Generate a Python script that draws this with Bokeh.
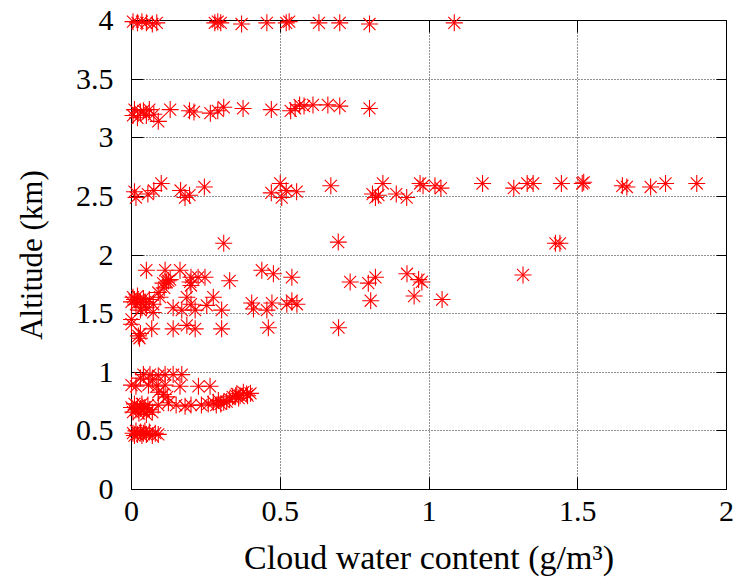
from bokeh.plotting import figure
from bokeh.models import LinearAxis, FixedTicker, Range1d
from bokeh.embed import file_html
from bokeh.resources import INLINE

# ---- data: cloud water content (g/m^3) vs altitude (km), grouped by level ----
cwc_40 = [0.005, 0.02, 0.035, 0.05, 0.07, 0.085, 0.28, 0.29, 0.30, 0.37, 0.455,
          0.52, 0.53, 0.63, 0.70, 0.80, 1.085]
alt_40 = [3.99, 3.98, 3.99, 3.98, 3.97, 3.98, 3.98, 3.99, 3.98, 3.97, 3.98,
          3.98, 3.99, 3.98, 3.98, 3.97, 3.98]

cwc_32 = [0.005, 0.01, 0.02, 0.03, 0.04, 0.05, 0.06, 0.075, 0.09, 0.13, 0.195,
          0.21, 0.265, 0.29, 0.31, 0.375, 0.47, 0.535, 0.55, 0.565, 0.58, 0.61,
          0.66, 0.70, 0.80]
alt_32 = [3.19, 3.24, 3.17, 3.22, 3.23, 3.19, 3.24, 3.20, 3.14, 3.24, 3.23,
          3.22, 3.21, 3.23, 3.26, 3.25, 3.24, 3.23, 3.25, 3.28, 3.27, 3.28,
          3.28, 3.27, 3.25]

cwc_25 = [0.01, 0.015, 0.055, 0.075, 0.10, 0.165, 0.18, 0.195, 0.245, 0.47, 0.50,
          0.505, 0.52, 0.555, 0.67, 0.81, 0.82, 0.83, 0.845, 0.89, 0.925, 0.97,
          0.98, 1.02, 1.04, 1.18, 1.285, 1.33, 1.35, 1.445, 1.515, 1.52, 1.65,
          1.665, 1.745, 1.795, 1.90]
alt_25 = [2.54, 2.49, 2.52, 2.55, 2.61, 2.55, 2.49, 2.51, 2.58, 2.53, 2.61,
          2.49, 2.55, 2.54, 2.59, 2.52, 2.49, 2.51, 2.61, 2.52, 2.49, 2.61,
          2.59, 2.59, 2.57, 2.61, 2.57, 2.61, 2.61, 2.61, 2.61, 2.62, 2.59,
          2.58, 2.58, 2.61, 2.61]

cwc_21 = [0.31, 0.695, 1.425, 1.44]
alt_21 = [2.10, 2.11, 2.10, 2.10]

cwc_16 = [0.05, 0.113, 0.163, 0.20, 0.224, 0.247, 0.106, 0.118, 0.124, 0.13,
          0.197, 0.20, 0.33, 0.438, 0.477, 0.539, 0.735, 0.796, 0.82, 0.926,
          0.965, 0.976, 0.95, 0.804, 1.316, 1.044,
          0.005, 0.0, 0.01, 0.015, 0.02, 0.03, 0.035, 0.04, 0.046, 0.05, 0.06,
          0.073, 0.073, 0.03, 0.096, 0.14, 0.169, 0.186, 0.20, 0.214, 0.253,
          0.275, 0.303, 0.404, 0.41, 0.455, 0.472, 0.522, 0.539, 0.556, 0.09,
          0.11,
          0.0, 0.0, 0.068, 0.14, 0.186, 0.214, 0.303, 0.46, 0.696, 0.023,
          0.027, 0.03]
alt_16 = [1.87, 1.87, 1.87, 1.81, 1.81, 1.81, 1.76, 1.77, 1.78, 1.79,
          1.77, 1.74, 1.78, 1.87, 1.84, 1.81, 1.77, 1.76, 1.81, 1.84,
          1.79, 1.77, 1.65, 1.61, 1.83, 1.62,
          1.64, 1.60, 1.62, 1.58, 1.65, 1.60, 1.55, 1.63, 1.60, 1.55, 1.62,
          1.58, 1.51, 1.53, 1.64, 1.55, 1.53, 1.64, 1.58, 1.53, 1.57,
          1.64, 1.53, 1.59, 1.54, 1.53, 1.59, 1.58, 1.61, 1.58, 1.68,
          1.72,
          1.45, 1.41, 1.37, 1.37, 1.40, 1.37, 1.37, 1.38, 1.38, 1.31,
          1.29, 1.33]

cwc_07 = [0.04, 0.062, 0.09, 0.113, 0.14, 0.169, 0.03, 0.07,
          0.0, 0.015, 0.057, 0.085, 0.113, 0.163, 0.225, 0.264,
          0.09, 0.107, 0.12,
          0.09, 0.124, 0.15, 0.18, 0.20, 0.235,
          0.0, 0.005, 0.01, 0.015, 0.02, 0.025, 0.03, 0.035, 0.04, 0.045, 0.05,
          0.055, 0.06, 0.07,
          0.258, 0.275, 0.285, 0.292, 0.30, 0.31, 0.32, 0.33, 0.34, 0.35, 0.354,
          0.36, 0.365, 0.376, 0.387, 0.40, 0.39,
          0.005, 0.01, 0.015, 0.02, 0.03, 0.035, 0.04, 0.045, 0.05, 0.06, 0.07,
          0.08, 0.09]
alt_07 = [0.98, 0.98, 0.97, 0.98, 0.98, 0.98, 0.95, 0.94,
          0.89, 0.88, 0.89, 0.88, 0.89, 0.88, 0.88, 0.88,
          0.83, 0.81, 0.79,
          0.72, 0.74, 0.72, 0.71, 0.72, 0.72,
          0.70, 0.66, 0.73, 0.68, 0.71, 0.65, 0.69, 0.73, 0.67, 0.70, 0.64,
          0.72, 0.68, 0.66,
          0.73, 0.745, 0.72, 0.76, 0.73, 0.745, 0.75, 0.77, 0.79, 0.80, 0.816,
          0.78, 0.80, 0.83, 0.815, 0.82, 0.80,
          0.48, 0.46, 0.50, 0.47, 0.49, 0.46, 0.48, 0.50, 0.47, 0.49, 0.46,
          0.48, 0.47]

x_ticks = [0, 0.5, 1, 1.5, 2]
x_tick_labels = ["0", "0.5", "1", "1.5", "2"]
y_ticks = [0, 0.5, 1, 1.5, 2, 2.5, 3, 3.5, 4]
y_tick_labels = ["0", "0.5", "1", "1.5", "2", "2.5", "3", "3.5", "4"]

x_label = "Cloud water content (g/m³)"
y_label = "Altitude (km)"

cwc = cwc_40 + cwc_32 + cwc_25 + cwc_21 + cwc_16 + cwc_07
alt = alt_40 + alt_32 + alt_25 + alt_21 + alt_16 + alt_07

FONT = "Liberation Serif"
TICK_FS = "30px"

p = figure(frame_width=595, frame_height=469,
           x_range=Range1d(0, 2), y_range=Range1d(0, 4),
           output_backend="svg", toolbar_location=None,
           min_border_left=131, min_border_right=10,
           min_border_top=20, min_border_bottom=92,
           x_axis_label=x_label, y_axis_label=y_label)

p.background_fill_color = "white"
p.border_fill_color = "white"
p.outline_line_color = "black"
p.outline_line_width = 1

xt = FixedTicker(ticks=x_ticks)
yt = FixedTicker(ticks=y_ticks)
x_over = {t: s for t, s in zip(x_ticks, x_tick_labels)}
y_over = {t: s for t, s in zip(y_ticks, y_tick_labels)}

def style_axis(ax, ticker, overrides, show_labels, tick_len):
    ax.ticker = ticker
    ax.axis_line_color = None
    ax.major_tick_in = tick_len
    ax.major_tick_out = 0
    ax.major_tick_line_color = "black"
    ax.major_tick_line_width = 1
    ax.minor_tick_line_color = None
    ax.major_label_overrides = overrides
    ax.major_label_text_font = FONT
    ax.axis_label_text_font = FONT
    ax.axis_label_text_font_style = "normal"
    ax.axis_label_text_color = "black"
    ax.major_label_text_color = "black"
    if show_labels:
        ax.major_label_text_font_size = TICK_FS
    else:
        ax.major_label_text_font_size = "1px"
        ax.major_label_standoff = 0

style_axis(p.xaxis[0], xt, x_over, True, 12)
style_axis(p.yaxis[0], yt, y_over, True, 12)
p.xaxis[0].axis_label_text_font_size = "34px"
p.yaxis[0].axis_label_text_font_size = "31px"
p.xaxis[0].major_label_standoff = 12
p.xaxis[0].axis_label_standoff = 15
p.yaxis[0].major_label_standoff = 18
p.yaxis[0].axis_label_standoff = 24

top = LinearAxis()
right = LinearAxis()
style_axis(top, xt, {t: "" for t in x_ticks}, False, 12)
style_axis(right, yt, {t: "" for t in y_ticks}, False, 10)
p.add_layout(top, "above")
p.add_layout(right, "right")

p.xgrid.ticker = xt
p.ygrid.ticker = yt
for g in (p.xgrid[0], p.ygrid[0]):
    g.grid_line_color = "#222222"
    g.grid_line_dash = "1 2"
    g.grid_line_width = 1

r1 = p.scatter(cwc, alt, marker="cross", size=17, line_color="#ff0000",
               line_width=1.1)
r2 = p.scatter(cwc, alt, marker="x", size=17, line_color="#ff0000",
               line_width=1.1)
r1.level = "overlay"
r2.level = "overlay"

open("out.html", "w").write(file_html(p, INLINE))
